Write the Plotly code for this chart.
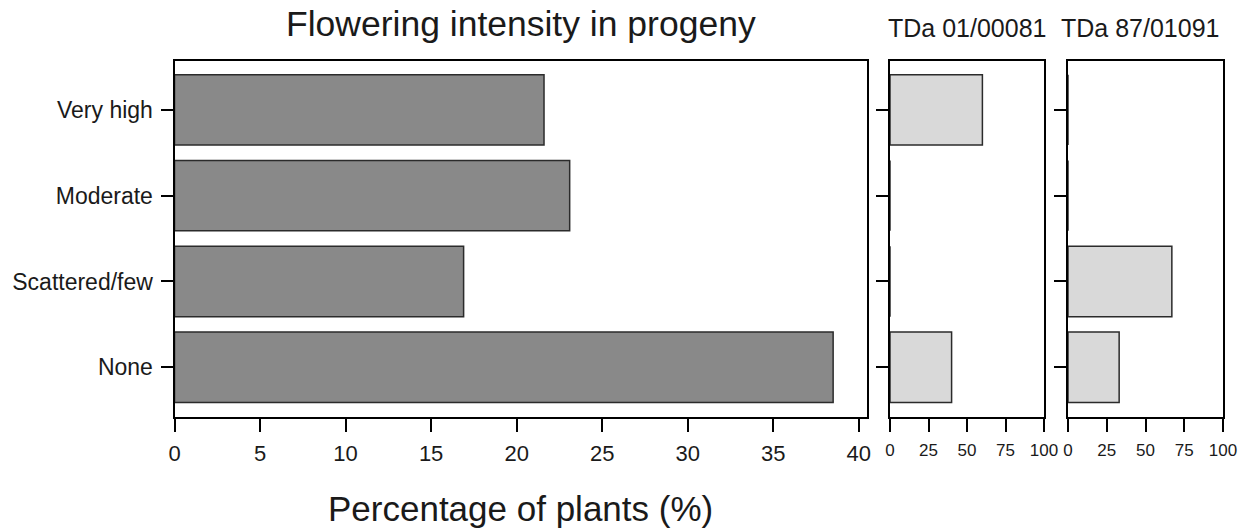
import plotly.graph_objects as go

# ---- data ----
categories = ["Very high", "Moderate", "Scattered/few", "None"]
progeny_pct = [21.6, 23.1, 16.9, 38.5]          # main panel, %
tda_01_00081 = [60, 0, 0, 40]                    # parent TDa 01/00081, %
tda_87_01091 = [0, 0, 67, 33]                    # parent TDa 87/01091, %
main_ticks = [0, 5, 10, 15, 20, 25, 30, 35, 40]
small_ticks = [0, 25, 50, 75, 100]
panel_titles = ["TDa 01/00081", "TDa 87/01091"]
main_title = "Flowering intensity in progeny"
x_title = "Percentage of plants (%)"

W, H = 1246, 531
FONT = "Liberation Sans, Arial, sans-serif"
INK = "#1a1a1a"


def px_x(p):
    return p / W


def px_y(p):
    return 1 - p / H


TOP, BOTTOM = 61, 417
y_dom = [px_y(BOTTOM), px_y(TOP)]
y_range = [3.58, -0.57]

fig = go.Figure()

bar_line = dict(color="#2b2b2b", width=1.5)
fig.add_trace(go.Bar(x=progeny_pct, y=categories, orientation="h",
                     marker=dict(color="#898989", line=bar_line),
                     width=0.82, xaxis="x", yaxis="y", showlegend=False))
fig.add_trace(go.Bar(x=tda_01_00081, y=categories, orientation="h",
                     marker=dict(color="#d9d9d9", line=bar_line),
                     width=0.82, xaxis="x2", yaxis="y2", showlegend=False))
fig.add_trace(go.Bar(x=tda_87_01091, y=categories, orientation="h",
                     marker=dict(color="#d9d9d9", line=bar_line),
                     width=0.82, xaxis="x3", yaxis="y3", showlegend=False))

common_axis = dict(showline=True, linecolor="black", linewidth=2, mirror=True,
                   ticks="outside", tickcolor="black", tickwidth=2,
                   showgrid=False, zeroline=False, fixedrange=True,
                   automargin=False)

xaxis_main = dict(common_axis, domain=[px_x(174.5), px_x(866.5)], range=[0, 40.45],
                  tickvals=main_ticks, ticklen=13, anchor="y",
                  tickfont=dict(family=FONT, size=22, color=INK), ticklabelstandoff=3)
xaxis_2 = dict(common_axis, domain=[px_x(890), px_x(1044)], range=[0, 100],
               tickvals=small_ticks, ticklen=13, anchor="y2",
               tickfont=dict(family=FONT, size=17, color=INK), ticklabelstandoff=4)
xaxis_3 = dict(common_axis, domain=[px_x(1068), px_x(1223)], range=[0, 100],
               tickvals=small_ticks, ticklen=13, anchor="y3",
               tickfont=dict(family=FONT, size=17, color=INK), ticklabelstandoff=4)

yaxis_common = dict(common_axis, domain=y_dom, type="category",
                    categoryorder="array", categoryarray=categories,
                    range=y_range, ticklen=12)
yaxis_main = dict(yaxis_common, anchor="x",
                  tickfont=dict(family=FONT, size=23, color=INK), ticklabelstandoff=3)
yaxis_2 = dict(yaxis_common, anchor="x2", showticklabels=False)
yaxis_3 = dict(yaxis_common, anchor="x3", showticklabels=False)

annotations = [
    dict(text=main_title, x=px_x(521), y=px_y(24), xref="paper", yref="paper",
         xanchor="center", yanchor="middle", showarrow=False,
         font=dict(family=FONT, size=35.5, color=INK)),
    dict(text=x_title, x=px_x(520), y=px_y(508), xref="paper", yref="paper",
         xanchor="center", yanchor="middle", showarrow=False,
         font=dict(family=FONT, size=35, color=INK)),
    dict(text=panel_titles[0], x=px_x(967), y=px_y(28), xref="paper", yref="paper",
         xanchor="center", yanchor="middle", showarrow=False,
         font=dict(family=FONT, size=25, color=INK)),
    dict(text=panel_titles[1], x=px_x(1140), y=px_y(28), xref="paper", yref="paper",
         xanchor="center", yanchor="middle", showarrow=False,
         font=dict(family=FONT, size=25, color=INK)),
]

fig.update_layout(
    width=W, height=H, autosize=False,
    margin=dict(l=0, r=0, t=0, b=0, autoexpand=False),
    paper_bgcolor="white", plot_bgcolor="white",
    xaxis=xaxis_main, xaxis2=xaxis_2, xaxis3=xaxis_3,
    yaxis=yaxis_main, yaxis2=yaxis_2, yaxis3=yaxis_3,
    annotations=annotations, bargap=0.18,
)

fig.write_html(
    "out.html",
    config={"displayModeBar": False},
    post_script="document.body.style.margin='0px';document.body.style.padding='0px';"
                "document.body.style.overflow='hidden';",
)
